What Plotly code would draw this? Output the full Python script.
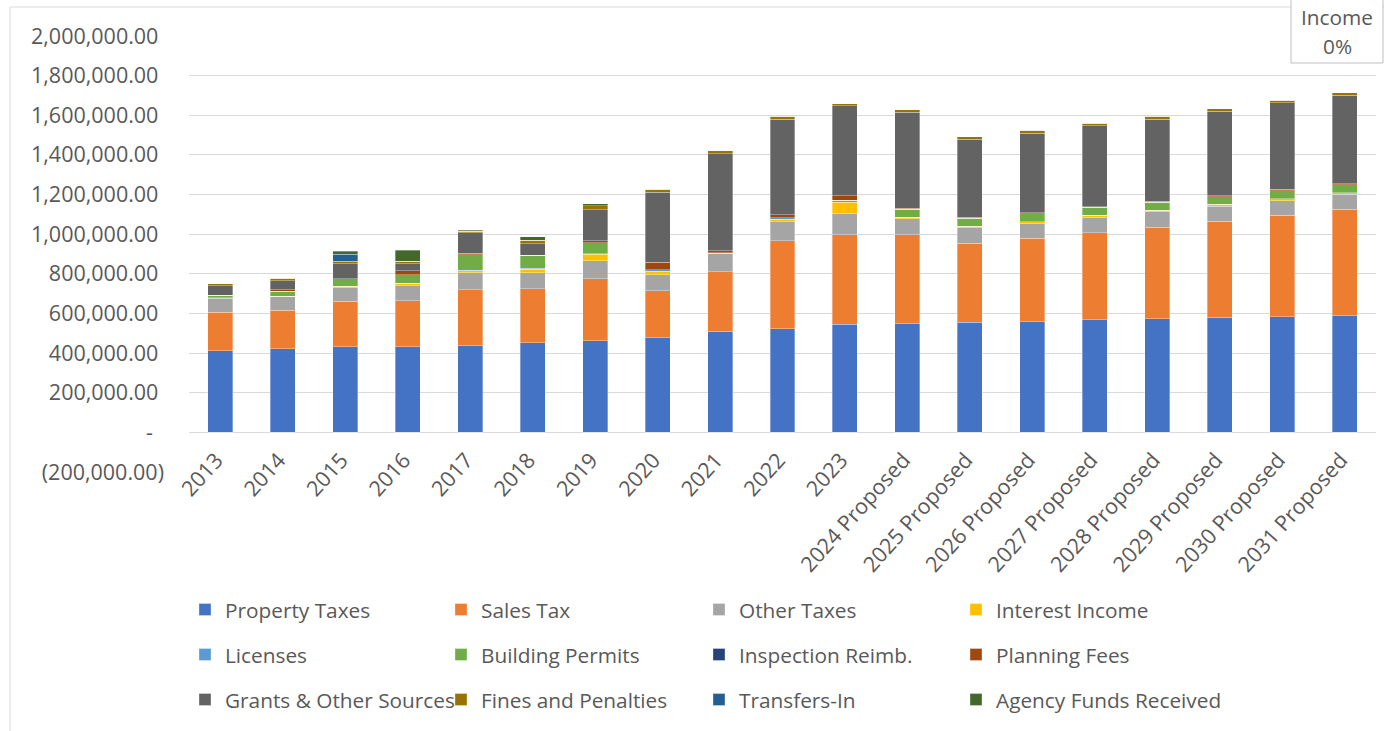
import plotly.graph_objects as go

categories = ["2013", "2014", "2015", "2016", "2017", "2018", "2019", "2020", "2021", "2022", "2023",
              "2024 Proposed", "2025 Proposed", "2026 Proposed", "2027 Proposed", "2028 Proposed",
              "2029 Proposed", "2030 Proposed", "2031 Proposed"]

property_taxes = [413000, 423000, 432000, 433000, 438000, 453000, 463000, 478000, 509000, 524000, 546000,
                  549000, 556000, 559000, 569000, 573000, 581000, 584000, 589000]
sales_tax = [194000, 194000, 230000, 232000, 281000, 271000, 313000, 237000, 302000, 442000, 452000,
             449000, 398000, 420000, 437000, 462000, 484000, 511000, 536000]
other_taxes = [70000, 68000, 68000, 75000, 86000, 82000, 90000, 81000, 94000, 97000, 107000,
               80000, 79000, 77000, 79000, 78000, 77000, 74000, 77000]
interest_income = [3000, 3000, 7000, 12000, 10000, 18000, 32000, 18000, 0, 13000, 55000,
                   8000, 8000, 8000, 10000, 7000, 10000, 10000, 7000]
licenses = [0, 0, 0, 0, 4000, 4000, 3000, 7000, 2000, 7000, 8000,
            0, 0, 0, 0, 0, 0, 0, 0]
building_permits = [12000, 25000, 37000, 44000, 77000, 65000, 57000, 0, 0, 0, 3000,
                    39000, 40000, 40000, 40000, 40000, 37000, 39000, 40000]
inspection_reimb = [0] * 19
planning_fees = [0, 7000, 0, 20000, 8000, 0, 10000, 37000, 10000, 15000, 23000,
                 5000, 5000, 5000, 3000, 5000, 5000, 8000, 5000]
grants_other = [47000, 45000, 77000, 35000, 102000, 59000, 156000, 353000, 490000, 482000, 455000,
                485000, 393000, 400000, 408000, 415000, 427000, 437000, 447000]
fines_penalties = [12000, 12000, 13000, 13000, 8000, 17000, 20000, 15000, 15000, 15000, 8000,
                   12000, 13000, 15000, 13000, 15000, 13000, 13000, 13000]
transfers_in = [0, 0, 34000, 0, 0, 0, 0, 0, 0, 0, 0,
                0, 0, 0, 0, 0, 0, 0, 0]
agency_funds = [0, 0, 15000, 55000, 7000, 18000, 10000, 0, 0, 0, 0,
                0, 0, 0, 0, 0, 0, 0, 0]

series_names = ["Property Taxes", "Sales Tax", "Other Taxes", "Interest Income",
                "Licenses", "Building Permits", "Inspection Reimb.", "Planning Fees",
                "Grants & Other Sources", "Fines and Penalties", "Transfers-In", "Agency Funds Received"]
series_values = [property_taxes, sales_tax, other_taxes, interest_income,
                 licenses, building_permits, inspection_reimb, planning_fees,
                 grants_other, fines_penalties, transfers_in, agency_funds]
series_colors = ["#4472C4", "#ED7D31", "#A5A5A5", "#FFC000",
                 "#5B9BD5", "#70AD47", "#264478", "#9E480E",
                 "#636363", "#997300", "#255E91", "#43682B"]

y_ticks = [-200000, 0, 200000, 400000, 600000, 800000, 1000000, 1200000, 1400000, 1600000, 1800000, 2000000]


def fmt(v):
    if v == 0:
        return "-" + "\u00a0" * 2
    if v < 0:
        return "({:,.2f})".format(-v)
    return "{:,.2f}".format(v) + "\u00a0"


FONT = "'Open Sans', Lato, sans-serif"
TXT = "#595959"

# plot area: left 189, right 1376, top 36, bottom 472
L, R, T, B = 189, 8, 36, 259
W, H = 1384, 731
pw, ph = W - L - R, H - T - B
zero_frac = 200000 / 2200000

col_px = [185, 441, 699, 956]
row_px = [610, 655, 700]

fig = go.Figure()
legends = {}
for i, (name, vals, col) in enumerate(zip(series_names, series_values, series_colors)):
    lid = "legend" if i == 0 else "legend%d" % (i + 1)
    fig.add_trace(go.Bar(
        name=name, x=categories, y=vals,
        marker=dict(color=col, line=dict(color="rgba(255,255,255,0.55)", width=0.6)),
        legend=lid,
    ))
    legends[lid] = dict(
        x=(col_px[i % 4] - L) / pw, y=(H - B - row_px[i // 4]) / ph,
        xanchor="left", yanchor="middle", orientation="h", itemwidth=30,
        font=dict(family=FONT, size=20.8, color=TXT),
        bgcolor="rgba(0,0,0,0)", itemclick=False, itemdoubleclick=False,
    )

fig.update_layout(
    width=W, height=H,
    margin=dict(l=L, r=R, t=T, b=B, autoexpand=False),
    barmode="stack", bargap=0.6,
    paper_bgcolor="white", plot_bgcolor="white",
    font=dict(family=FONT, color=TXT, size=19),
    xaxis=dict(
        type="category", anchor="free", position=zero_frac,
        tickangle=-48, showgrid=False, showline=False, zeroline=False,
        ticks="", ticklabelstandoff=10, ticklabelshift=-4, automargin=False,
        tickfont=dict(family=FONT, size=21.5, color=TXT),
    ),
    yaxis=dict(
        range=[-200000, 2000000], tickvals=y_ticks, ticktext=[fmt(v) for v in y_ticks],
        showgrid=True, gridcolor="#D9D9D9", gridwidth=1, zeroline=False, showline=False,
        ticks="", ticklabelstandoff=24, automargin=False,
        tickfont=dict(family=FONT, size=21.5, color=TXT),
    ),
    showlegend=True,
    **legends,
)

# chart area border
fig.add_shape(type="rect", xref="paper", yref="paper",
              x0=(10 - L) / pw, x1=(1400 - L) / pw,
              y0=(H - B - 760) / ph, y1=(H - B - 7) / ph,
              line=dict(color="#D9D9D9", width=1), fillcolor="rgba(0,0,0,0)", layer="below")

# stray data label box
fig.add_shape(type="rect", xref="paper", yref="paper",
              x0=(1291 - L) / pw, x1=(1383 - L) / pw,
              y0=(H - B - 63) / ph, y1=(H - B + 10) / ph,
              line=dict(color="#BFBFBF", width=1), fillcolor="white")
fig.add_annotation(text="Income", xref="paper", yref="paper",
                   x=(1337 - L) / pw, y=(H - B - 17) / ph, showarrow=False,
                   xanchor="center", yanchor="middle",
                   font=dict(family=FONT, size=20.8, color=TXT))
fig.add_annotation(text="0%", xref="paper", yref="paper",
                   x=(1337 - L) / pw, y=(H - B - 46) / ph, showarrow=False,
                   xanchor="center", yanchor="middle",
                   font=dict(family=FONT, size=20.8, color=TXT))

fig.write_html("out.html", config={"displayModeBar": False},
               post_script="document.body.style.margin='0';document.body.style.overflow='hidden';")
